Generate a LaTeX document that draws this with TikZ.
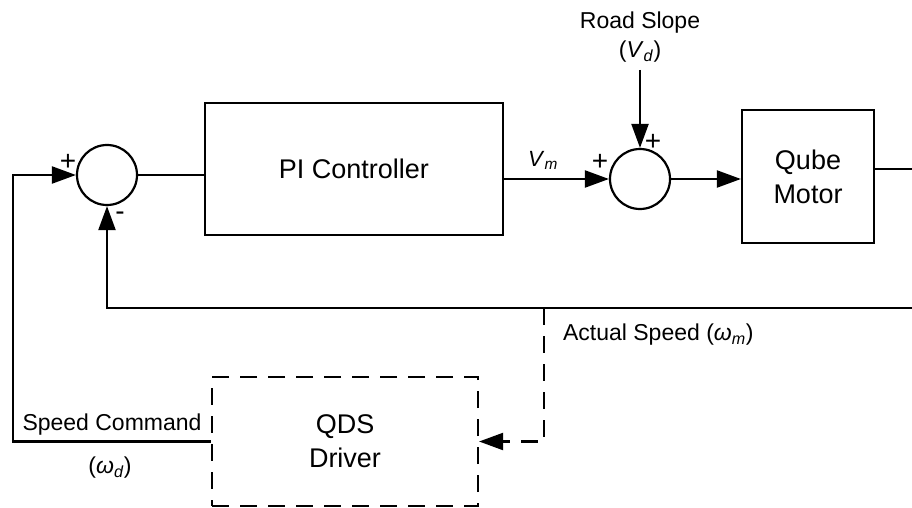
\documentclass[tikz,border=0pt]{standalone}
\usepackage{fontspec}
\setmainfont{Liberation Sans}
\usetikzlibrary{arrows.meta}
\begin{document}
\begin{tikzpicture}[x=1pt,y=-1pt,
  line width=2.2pt,
  blk/.style={draw,rectangle,inner sep=0pt,align=center,font=\fontsize{27}{34}\selectfont},
  sumc/.style={draw,circle,minimum size=60pt,inner sep=0pt},
  arr/.style={-{Triangle[length=24pt,width=17pt]}},
  dsh/.style={dash pattern=on 17pt off 11pt},
  lbl/.style={font=\fontsize{23}{29}\selectfont,inner sep=0pt,align=center},
  sgn/.style={font=\fontsize{28}{30}\selectfont,inner sep=0pt}]
\useasboundingbox (0,0) rectangle (912,508);
% blocks
\node[sumc] (s1) at (107,175) {};
\node[blk, minimum width=298pt, minimum height=132pt] (pi) at (354,169) {PI Controller};
\node[sumc] (s2) at (640,179) {};
\node[blk, minimum width=132pt, minimum height=133pt] (qube) at (808,176.5) {Qube\\Motor};
\node[blk, dsh, minimum width=266pt, minimum height=129pt] (qds) at (345,441.5) {QDS\\Driver};
% labels
\node[lbl] (rs) at (640,37) {Road Slope\\(\textit{V}\textsubscript{\textit{d}})};
\node[lbl, font=\fontsize{22}{26}\selectfont] (vm) at (543,160) {\textit{V}\textsubscript{\textit{m}}};
\node[lbl, anchor=west] (act) at (562,335) {Actual Speed (\textit{ω}\textsubscript{\textit{m}})};
\node[lbl] (cmd) at (112,425) {Speed Command};
\node[lbl] (wd) at (110,468) {(\textit{ω}\textsubscript{\textit{d}})};
\node[sgn] (p1) at (68,162) {+};
\node[sgn] (m1) at (120,216) {-};
\node[sgn] (p2) at (600,162) {+};
\node[sgn] (p3) at (653,142) {+};
% coordinates
\coordinate (rsin) at (640,70);
\coordinate (outR) at (912,169);
\coordinate (fbR) at (912,308);
\coordinate (tap) at (544,308);
\coordinate (cmdL) at (13,441);
% connectors
\draw (s1.east) -- (s1.east -| pi.west);
\draw[arr] (pi.east |- s2.west) -- (s2.west);
\draw[arr] (rsin) -- (s2.north);
\draw[arr] (s2.east) -- (s2.east -| qube.west);
\draw (qube.east |- outR) -- (outR);
\draw[arr] (fbR) -| (s1.south);
\draw[arr, dsh] (tap) |- (qds.east);
\draw[arr] (qds.west) -- (qds.west -| cmdL) |- (s1.west);
\end{tikzpicture}
\end{document}
